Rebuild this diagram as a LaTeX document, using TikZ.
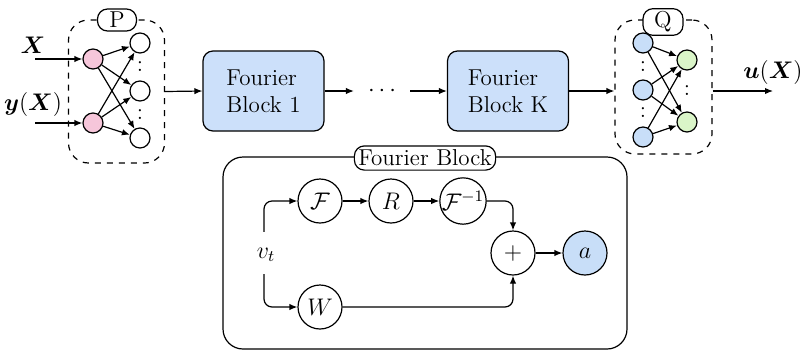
\documentclass[tikz,border=0pt]{standalone}
\usepackage{bm}
\usetikzlibrary{arrows.meta}
\definecolor{pinkn}{RGB}{246,198,218}
\definecolor{bluen}{RGB}{200,222,248}
\definecolor{greenn}{RGB}{218,245,200}
\definecolor{blockblue}{RGB}{204,224,250}
\begin{document}
\begin{tikzpicture}[x=0.5pt,y=-0.5pt,
  >={Latex[length=4pt,width=3.2pt]}, line width=0.6pt,
  every node/.style={font=\fontsize{11.5}{13.5}\selectfont},
  nn/.style={circle,draw,minimum size=10pt,inner sep=0pt},
  op/.style={circle,draw,minimum size=22pt,inner sep=0pt},
  blk/.style={draw,rounded corners=5pt,fill=blockblue,minimum width=60.5pt,minimum height=40pt,align=left,inner sep=2pt},
  tag/.style={draw,fill=white,rounded corners=5pt,inner sep=1.5pt,minimum height=11pt},
  dashbox/.style={draw,dashed,rounded corners=10pt,inner sep=0pt},
  vd/.style={inner sep=0pt}]
\useasboundingbox (0,0) rectangle (802,355);

% P block
\node[dashbox,minimum width=48pt,minimum height=71.5pt] (Pbox) at (116.5,91.5) {};
\node[tag,minimum width=19.5pt] (Ptag) at (117,20) {P};
\node[nn,fill=pinkn] (p1) at (93,59) {};
\node[nn,fill=pinkn] (p2) at (93,123) {};
\node[nn] (w1) at (140,43) {};
\node[nn] (w2) at (140,91) {};
\node[nn] (w3) at (140,138) {};
\node[vd] (d1) at (140,67) {:};
\node[vd] (d2) at (140,115) {:};
\foreach \s in {p1,p2}{\foreach \t in {w1,w2,w3}{\draw[->] (\s) -- (\t);}}
\node (xl) at (33,45) {$\bm{X}$};
\node (yl) at (33,104) {$\bm{y}(\bm{X})$};
\coordinate (xin) at (35,59);
\coordinate (yin) at (35,123);
\draw[->] (xin) -- (p1);
\draw[->] (yin) -- (p2);

% Fourier blocks
\node[blk] (fb1) at (263.5,91) {Fourier\\Block 1};
\node[inner sep=0pt,minimum width=27.5pt] (dots) at (382,91) {$\cdots$};
\node[blk] (fbK) at (508,91) {Fourier\\Block K};
\draw[->] (Pbox.east) -- (fb1.west);
\draw[->] (fb1.east) -- (dots.west);
\draw[->] (dots.east) -- (fbK.west);

% Q block
\node[dashbox,minimum width=48.5pt,minimum height=67pt] (Qbox) at (663.5,87) {};
\node[tag,minimum width=20pt] (Qtag) at (663,22) {Q};
\node[nn,fill=bluen] (b1) at (643,43) {};
\node[nn,fill=bluen] (b2) at (643,90) {};
\node[nn,fill=bluen] (b3) at (643,137) {};
\node[nn,fill=greenn] (g1) at (687,60) {};
\node[nn,fill=greenn] (g2) at (687,122) {};
\node[vd] (d3) at (643,67) {:};
\node[vd] (d4) at (643,113) {:};
\node[vd] (d5) at (687,91) {:};
\foreach \s in {b1,b2,b3}{\foreach \t in {g1,g2}{\draw[->] (\s) -- (\t);}}
\draw[->] (fbK.east) -- (fbK.east -| Qbox.west);
\coordinate (uend) at (773,91);
\draw[->] (Qbox.east |- uend) -- (uend);
\node (ul) at (773,72) {$\bm{u}(\bm{X})$};

% Fourier block detail
\node[draw,rounded corners=10pt,minimum width=202pt,minimum height=96pt,inner sep=0pt] (big) at (425,253) {};
\node[tag,inner sep=2pt] (btag) at (425,158) {Fourier Block};
\node[op] (F) at (320,201) {$\mathcal{F}$};
\node[op] (R) at (391,201) {$R$};
\node[op] (Fi) at (463,201) {$\mathcal{F}^{-1}$};
\node[op] (plus) at (513,253) {$+$};
\node[op,fill=bluen] (a) at (585,253) {$a$};
\node[op] (W) at (320,307) {$W$};
\node[inner sep=0pt,minimum height=20.5pt,minimum width=8pt] (vt) at (264,253) {};
\node at (266,255) {$v_t$};
\draw[->,rounded corners=4pt] (vt.north) |- (F.west);
\draw[->,rounded corners=4pt] (vt.south) |- (W.west);
\draw[->] (F) -- (R);
\draw[->] (R) -- (Fi);
\draw[->,rounded corners=4pt] (Fi.east) -| (plus.north);
\draw[->,rounded corners=4pt] (W.east) -| (plus.south);
\draw[->] (plus) -- (a);
\end{tikzpicture}
\end{document}
